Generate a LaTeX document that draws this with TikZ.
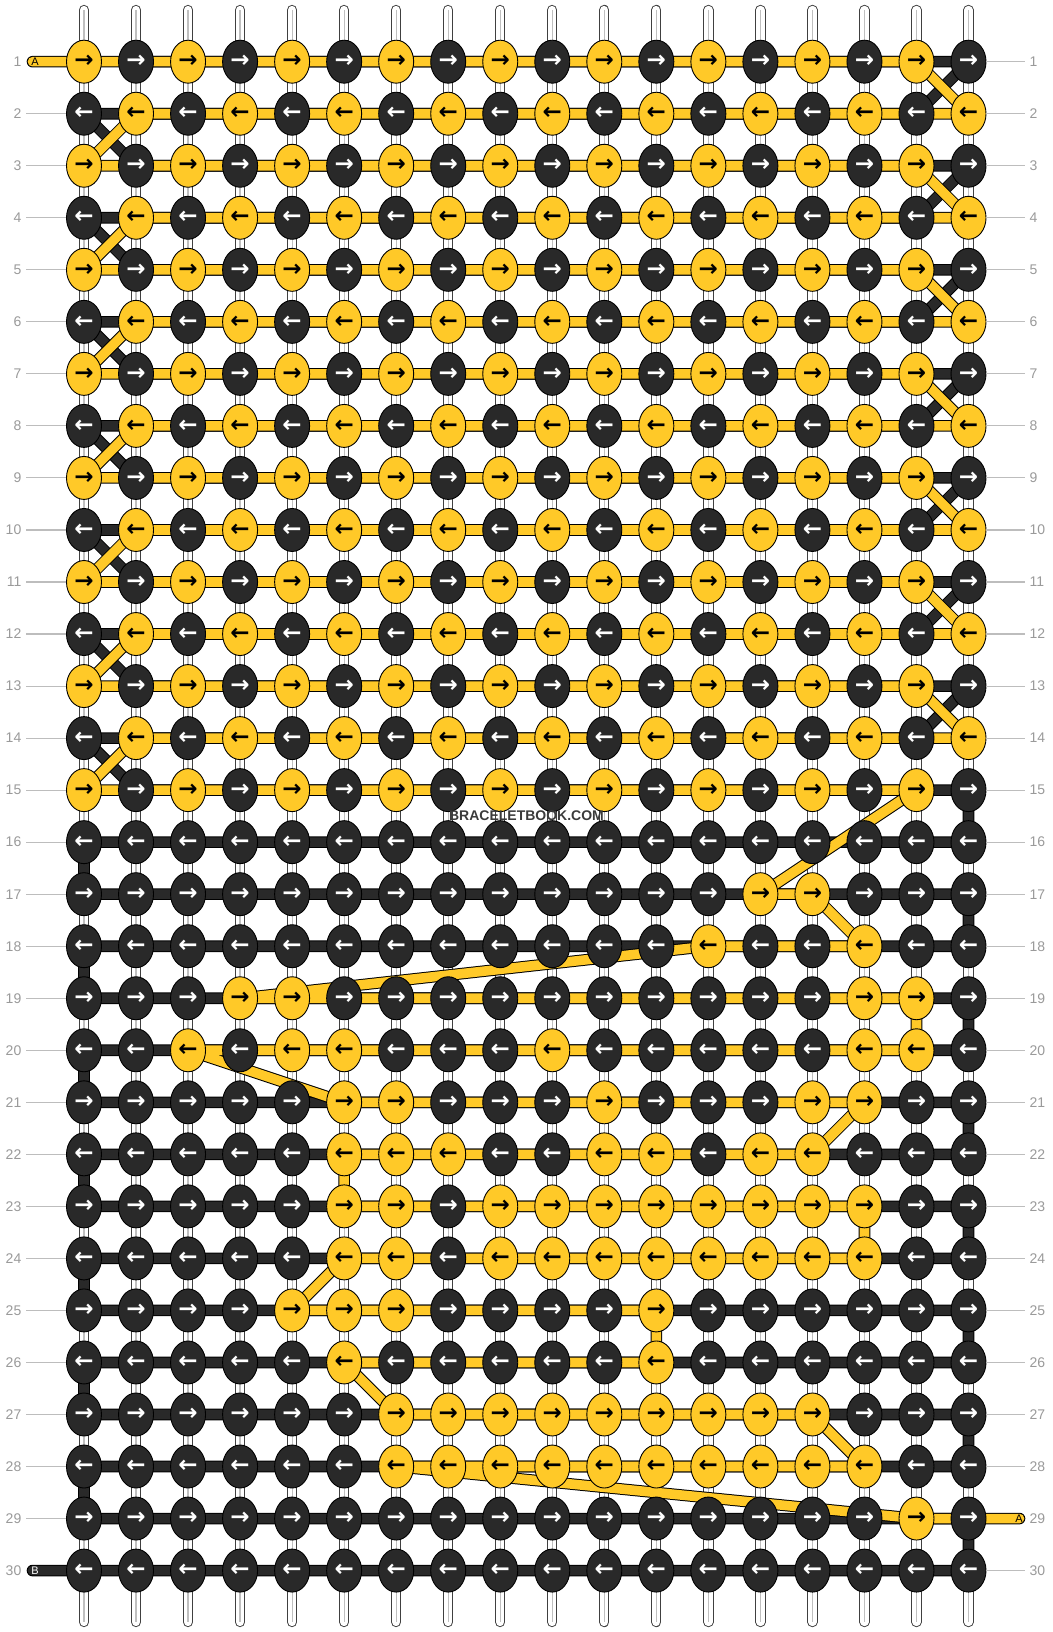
\documentclass[tikz,border=0pt]{standalone}
\usepackage{fontspec}
\setmainfont{Liberation Sans}
\newfontfamily\arrowfont{DejaVu Sans}
\usetikzlibrary{shapes.geometric}
\definecolor{yel}{HTML}{FFC928}
\definecolor{drk}{HTML}{292929}
\definecolor{lblgray}{HTML}{9A9A9A}
\definecolor{lingray}{HTML}{BDBDBD}
\definecolor{wmgray}{HTML}{3B3B3B}
\pgfdeclarelayer{bgl}
\pgfdeclarelayer{warpl}
\pgfdeclarelayer{strands}
\pgfsetlayers{bgl,warpl,strands,main}
\tikzset{
 knot/.style={ellipse, draw=black, line width=0.9pt, minimum width=35pt, minimum height=43pt, inner sep=0pt, font=\arrowfont\bfseries\fontsize{23}{23}\selectfont},
 knot1/.style={knot, fill=yel, text=black},
 knot0/.style={knot, fill=drk, text=white},
 warpstr/.style={draw=black!75, line width=1pt, double=white, double distance=8.3pt, line cap=round},
 warpmid/.style={draw=black!25, line width=1.2pt},
 ystrand/.style={draw=black, line width=1pt, double=yel, double distance=9.6pt, line cap=round, line join=round},
 dstrand/.style={draw=black, line width=1pt, double=drk, double distance=9.6pt, line cap=round, line join=round},
 lbl/.style={inner xsep=4.5pt, inner ysep=0pt, text=lblgray, font=\fontsize{14}{14}\selectfont},
 lblline/.style={draw=lingray, line width=1.1pt},
 tailtxt/.style={inner sep=0pt, font=\fontsize{11}{11}\selectfont},
 wmark/.style={inner sep=1pt, text=wmgray, font=\bfseries\fontsize{14}{14}\selectfont},
}
\begin{document}
\begin{tikzpicture}[x=1pt,y=-1pt]
\useasboundingbox (0,0) rectangle (1052,1632);
\begin{pgfonlayer}{bgl}
\fill[white] (0,0) rectangle (1052,1632);
\end{pgfonlayer}
% knots
\foreach \r/\pat in {
1/{1,0,1,0,1,0,1,0,1,0,1,0,1,0,1,0,1,0},
2/{0,1,0,1,0,1,0,1,0,1,0,1,0,1,0,1,0,1},
3/{1,0,1,0,1,0,1,0,1,0,1,0,1,0,1,0,1,0},
4/{0,1,0,1,0,1,0,1,0,1,0,1,0,1,0,1,0,1},
5/{1,0,1,0,1,0,1,0,1,0,1,0,1,0,1,0,1,0},
6/{0,1,0,1,0,1,0,1,0,1,0,1,0,1,0,1,0,1},
7/{1,0,1,0,1,0,1,0,1,0,1,0,1,0,1,0,1,0},
8/{0,1,0,1,0,1,0,1,0,1,0,1,0,1,0,1,0,1},
9/{1,0,1,0,1,0,1,0,1,0,1,0,1,0,1,0,1,0},
10/{0,1,0,1,0,1,0,1,0,1,0,1,0,1,0,1,0,1},
11/{1,0,1,0,1,0,1,0,1,0,1,0,1,0,1,0,1,0},
12/{0,1,0,1,0,1,0,1,0,1,0,1,0,1,0,1,0,1},
13/{1,0,1,0,1,0,1,0,1,0,1,0,1,0,1,0,1,0},
14/{0,1,0,1,0,1,0,1,0,1,0,1,0,1,0,1,0,1},
15/{1,0,1,0,1,0,1,0,1,0,1,0,1,0,1,0,1,0},
16/{0,0,0,0,0,0,0,0,0,0,0,0,0,0,0,0,0,0},
17/{0,0,0,0,0,0,0,0,0,0,0,0,0,1,1,0,0,0},
18/{0,0,0,0,0,0,0,0,0,0,0,0,1,0,0,1,0,0},
19/{0,0,0,1,1,0,0,0,0,0,0,0,0,0,0,1,1,0},
20/{0,0,1,0,1,1,0,0,0,1,0,0,0,0,0,1,1,0},
21/{0,0,0,0,0,1,1,0,0,0,1,0,0,0,1,1,0,0},
22/{0,0,0,0,0,1,1,1,0,0,1,1,0,1,1,0,0,0},
23/{0,0,0,0,0,1,1,0,1,1,1,1,1,1,1,1,0,0},
24/{0,0,0,0,0,1,1,0,1,1,1,1,1,1,1,1,0,0},
25/{0,0,0,0,1,1,1,0,0,0,0,1,0,0,0,0,0,0},
26/{0,0,0,0,0,1,0,0,0,0,0,1,0,0,0,0,0,0},
27/{0,0,0,0,0,0,1,1,1,1,1,1,1,1,1,0,0,0},
28/{0,0,0,0,0,0,1,1,1,1,1,1,1,1,1,1,0,0},
29/{0,0,0,0,0,0,0,0,0,0,0,0,0,0,0,0,1,0},
30/{0,0,0,0,0,0,0,0,0,0,0,0,0,0,0,0,0,0}} {
  \foreach \v [count=\c] in \pat {
    \node[knot\v] (k-\r-\c) at ({84+(\c-1)*52.03},{61.7+(\r-1)*52.03}) {\ifodd\r →\else ←\fi};
  }
}
% warp strings
\foreach \c in {1,...,18} {
  \coordinate (wt-\c) at ({84+(\c-1)*52.03},10);
  \coordinate (wb-\c) at ({84+(\c-1)*52.03},1622);
  \begin{pgfonlayer}{warpl}
  \draw[warpstr] (wt-\c) -- (wb-\c);
  \draw[warpmid] (wt-\c) -- (wb-\c);
  \end{pgfonlayer}
}
% row labels
\foreach \r in {1,...,30} {
  \node[lbl, anchor=east] (ll-\r) at (26,{61.7+(\r-1)*52.03}) {\r};
  \node[lbl, anchor=west] (lr-\r) at (1025,{61.7+(\r-1)*52.03}) {\r};
}
\foreach \r in {2,...,29} { \draw[lblline] (ll-\r.east) -- (k-\r-1); }
\foreach \r in {1,...,28,30} { \draw[lblline] (k-\r-18) -- (lr-\r.west); }
% tails
\coordinate (tA1) at (32.5,61.7);
\coordinate (tA2) at (1019.5,1518.54);
\coordinate (tB) at (32.5,1570.57);
\begin{pgfonlayer}{strands}
\draw[dstrand] (k-1-2.center) -- (k-1-18.center) -- (k-2-17.center) -- (k-2-1.center)
  \foreach \r/\s in {3/4,5/6,7/8,9/10,11/12,13/14} { -- (k-\r-2.center) -- (k-\r-18.center) -- (k-\s-17.center) -- (k-\s-1.center) }
  -- (k-15-2.center) -- (k-15-18.center)
  \foreach \r/\s in {16/17,18/19,20/21,22/23,24/25,26/27,28/29} { -- (k-\r-18.center) -- (k-\r-1.center) -- (k-\s-1.center) -- (k-\s-18.center) }
  -- (k-30-18.center) -- (k-30-1.center) -- (tB);
\draw[ystrand] (tA1) -- (k-1-1.center) -- (k-1-17.center) -- (k-2-18.center) -- (k-2-2.center)
  \foreach \r/\s in {3/4,5/6,7/8,9/10,11/12,13/14} { -- (k-\r-1.center) -- (k-\r-17.center) -- (k-\s-18.center) -- (k-\s-2.center) }
  -- (k-15-1.center) -- (k-15-17.center) -- (k-17-14.center) -- (k-17-15.center)
  -- (k-18-16.center) -- (k-18-13.center) -- (k-19-4.center) -- (k-19-17.center)
  -- (k-20-17.center) -- (k-20-3.center) -- (k-21-6.center) -- (k-21-16.center)
  -- (k-22-15.center) -- (k-22-6.center) -- (k-23-6.center) -- (k-23-16.center)
  -- (k-24-16.center) -- (k-24-6.center) -- (k-25-5.center) -- (k-25-12.center)
  -- (k-26-12.center) -- (k-26-6.center) -- (k-27-7.center) -- (k-27-15.center)
  -- (k-28-16.center) -- (k-28-7.center) -- (k-29-17.center) -- (tA2);
\end{pgfonlayer}
\node[tailtxt, text=black] (txA1) at (35,61.7) {A};
\node[tailtxt, text=black] (txA2) at (1019,1518.54) {A};
\node[tailtxt, text=white] (txB) at (35,1570.57) {B};
% watermark
\node[wmark] (wm) at (526.5,816) {BRACELETBOOK.COM};
\end{tikzpicture}
\end{document}
